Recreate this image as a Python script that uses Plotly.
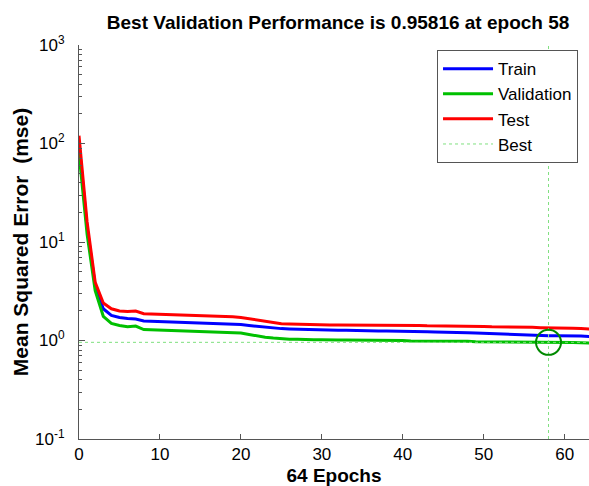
import plotly.graph_objects as go

epochs = list(range(0, 65))
train = [100, 14, 3.6, 2.1, 1.8, 1.71, 1.67, 1.65, 1.58, 1.57,
         1.56, 1.55, 1.54, 1.53, 1.52, 1.51, 1.50, 1.49, 1.48, 1.47,
         1.45, 1.42, 1.39, 1.36, 1.34, 1.32, 1.31, 1.30, 1.29, 1.29,
         1.28, 1.28, 1.27, 1.27, 1.26, 1.26, 1.26, 1.25, 1.25, 1.25,
         1.24, 1.24, 1.23, 1.23, 1.22, 1.22, 1.21, 1.21, 1.20, 1.19,
         1.18, 1.18, 1.17, 1.16, 1.15, 1.15, 1.14, 1.13, 1.12, 1.12,
         1.12, 1.11, 1.11, 1.10, 1.10]
validation = [80, 12, 3.2, 1.76, 1.49, 1.42, 1.38, 1.40, 1.29, 1.28,
              1.27, 1.26, 1.26, 1.25, 1.24, 1.24, 1.23, 1.22, 1.21, 1.20,
              1.19, 1.15, 1.11, 1.08, 1.06, 1.04, 1.03, 1.03, 1.02, 1.02,
              1.02, 1.01, 1.01, 1.01, 1.01, 1.00, 1.00, 1.00, 1.00, 1.00,
              1.00, 0.99, 0.99, 0.99, 0.99, 0.98, 0.98, 0.98, 0.98, 0.97,
              0.97, 0.97, 0.97, 0.96, 0.96, 0.96, 0.96, 0.96, 0.95816, 0.958,
              0.957, 0.955, 0.95, 0.945, 0.94]
test = [120, 16, 3.9, 2.4, 2.1, 1.99, 1.97, 1.99, 1.87, 1.86,
        1.85, 1.84, 1.83, 1.82, 1.81, 1.80, 1.79, 1.78, 1.76, 1.74,
        1.71, 1.66, 1.60, 1.55, 1.51, 1.48, 1.47, 1.46, 1.45, 1.45,
        1.45, 1.44, 1.44, 1.44, 1.44, 1.43, 1.43, 1.43, 1.43, 1.42,
        1.42, 1.42, 1.42, 1.41, 1.41, 1.41, 1.40, 1.40, 1.40, 1.39,
        1.39, 1.38, 1.38, 1.37, 1.37, 1.36, 1.36, 1.35, 1.35, 1.34,
        1.34, 1.33, 1.32, 1.31, 1.30]
best_epoch = 58
best_perf = 0.95816
y_tickvals = [0.1, 1, 10, 100, 1000]
y_ticktext = ["10<sup>-1</sup>", "10<sup>0</sup>", "10<sup>1</sup>", "10<sup>2</sup>", "10<sup>3</sup>"]
x_tickvals = [0, 10, 20, 30, 40, 50, 60]

minor_vals = [m * 10 ** e for e in range(-1, 3) for m in range(2, 10)]

fig = go.Figure()
fig.add_trace(go.Scatter(x=epochs, y=train, mode="lines", name="Train",
                         line=dict(color="#0000ff", width=3)))
fig.add_trace(go.Scatter(x=epochs, y=validation, mode="lines", name="Validation",
                         line=dict(color="#00c000", width=3)))
fig.add_trace(go.Scatter(x=epochs, y=test, mode="lines", name="Test",
                         line=dict(color="#ff0000", width=3)))
fig.add_trace(go.Scatter(x=[0, 64], y=[best_perf, best_perf], mode="lines", name="Best",
                         line=dict(color="#7fe07f", width=1, dash="dot")))
fig.add_trace(go.Scatter(x=[best_epoch, best_epoch], y=[0.1, 1000], mode="lines",
                         showlegend=False, line=dict(color="#7fe07f", width=1, dash="dot")))
fig.add_trace(go.Scatter(x=[best_epoch], y=[best_perf], mode="markers", showlegend=False,
                         marker=dict(symbol="circle-open", size=25,
                                     line=dict(color="#008a00", width=2), color="#008a00")))

fig.update_layout(
    width=589, height=486,
    margin=dict(l=79, r=0, t=45, b=47, autoexpand=False),
    paper_bgcolor="white", plot_bgcolor="white",
    font=dict(family="Liberation Sans, Arial, sans-serif", color="black"),
    title=dict(text="<b>Best Validation Performance is 0.95816 at epoch 58</b>",
               x=0.508, xref="paper", xanchor="center", y=0.955, yanchor="middle",
               font=dict(size=19, color="black")),
    showlegend=True,
    legend=dict(x=0.702, y=0.987, xanchor="left", yanchor="top",
                bgcolor="white", bordercolor="#555555", borderwidth=1,
                itemwidth=50,
                font=dict(size=17, color="black"), tracegroupgap=0),
)
fig.update_xaxes(range=[0, 63], tickvals=x_tickvals, ticks="inside", ticklen=5,
                 tickcolor="#555555", showline=True, linecolor="#555555", linewidth=1,
                 showgrid=False, zeroline=False, tickfont=dict(size=17), automargin=False,
                 title=dict(text="<b>64 Epochs</b>", font=dict(size=19), standoff=10))
fig.update_yaxes(type="log", range=[-1, 3], tickvals=y_tickvals, ticktext=y_ticktext,
                 ticks="inside", ticklen=6, tickcolor="#555555",
                 showline=True, linecolor="#555555", linewidth=1,
                 showgrid=False, zeroline=False, tickfont=dict(size=17), automargin=False,
                 ticklabelstandoff=10,
                 minor=dict(tickvals=minor_vals, ticks="inside", ticklen=3, tickcolor="#555555"),
                 title=dict(text="<b>Mean Squared Error  (mse)</b>", font=dict(size=21), standoff=0))

fig.write_html("out.html", config={"displayModeBar": False},
               post_script="document.body.style.margin='0';document.body.style.overflow='hidden';")
